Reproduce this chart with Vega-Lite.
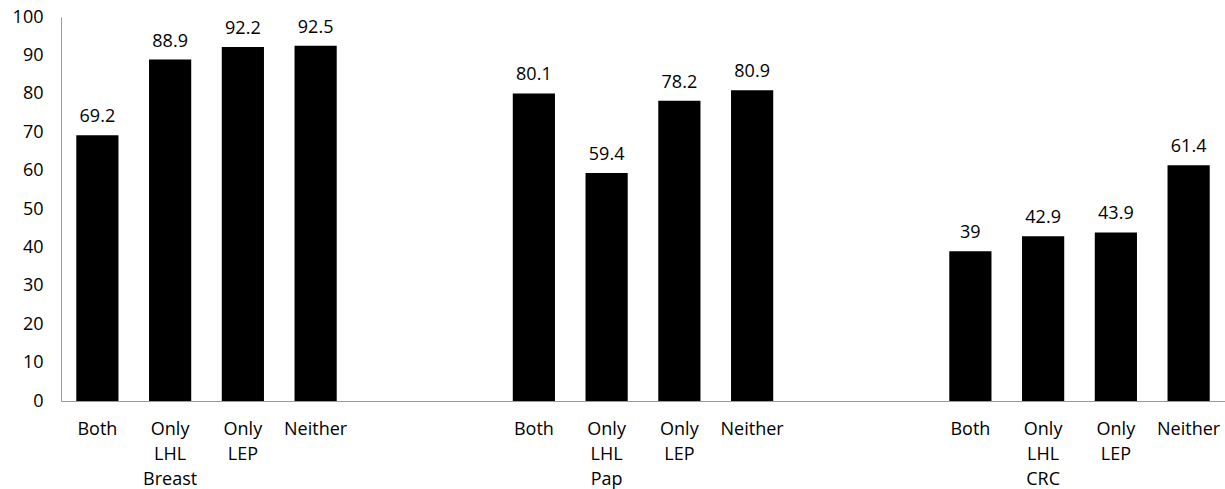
{
  "$schema": "https://vega.github.io/schema/vega-lite/v6.json",
  "width": 1164,
  "height": 384,
  "autosize": {"type": "none"},
  "padding": {"left": 61, "top": 17, "right": 0, "bottom": 88},
  "background": "white",
  "config": {"view": {"stroke": null}, "font": "Open Sans"},
  "data": {"values": [
    {"key": "a1:Both", "value": 69.2},
    {"key": "a2:Only|LHL|Breast", "value": 88.9},
    {"key": "a3:Only|LEP", "value": 92.2},
    {"key": "a4:Neither", "value": 92.5},
    {"key": "b1:Both", "value": 80.1},
    {"key": "b2:Only|LHL|Pap", "value": 59.4},
    {"key": "b3:Only|LEP", "value": 78.2},
    {"key": "b4:Neither", "value": 80.9},
    {"key": "c1:Both", "value": 39},
    {"key": "c2:Only|LHL|CRC", "value": 42.9},
    {"key": "c3:Only|LEP", "value": 43.9},
    {"key": "c4:Neither", "value": 61.4}
  ]},
  "encoding": {
    "x": {
      "field": "key", "type": "nominal",
      "scale": {
        "domain": ["a1:Both", "a2:Only|LHL|Breast", "a3:Only|LEP", "a4:Neither", "g1:", "g2:",
                   "b1:Both", "b2:Only|LHL|Pap", "b3:Only|LEP", "b4:Neither", "g3:", "g4:",
                   "c1:Both", "c2:Only|LHL|CRC", "c3:Only|LEP", "c4:Neither"],
        "paddingInner": 0.42, "paddingOuter": 0.21
      },
      "axis": {
        "title": null, "labelAngle": 0, "ticks": false, "domainColor": "#999999",
        "labelExpr": "split(slice(datum.label, 3), '|')",
        "labelFontSize": 18, "labelColor": "black", "labelPadding": 19, "labelLineHeight": 25
      }
    },
    "y": {
      "field": "value", "type": "quantitative",
      "scale": {"domain": [0, 100]},
      "axis": {
        "title": null, "values": [0,10,20,30,40,50,60,70,80,90,100], "grid": false, "ticks": false,
        "domainColor": "#999999", "labelFontSize": 18, "labelColor": "black", "labelPadding": 18
      }
    }
  },
  "layer": [
    {"mark": {"type": "bar", "color": "black"}},
    {"mark": {"type": "text", "baseline": "bottom", "dy": -9, "fontSize": 18, "color": "black"},
     "encoding": {"text": {"field": "value", "type": "quantitative"}}}
  ]
}
